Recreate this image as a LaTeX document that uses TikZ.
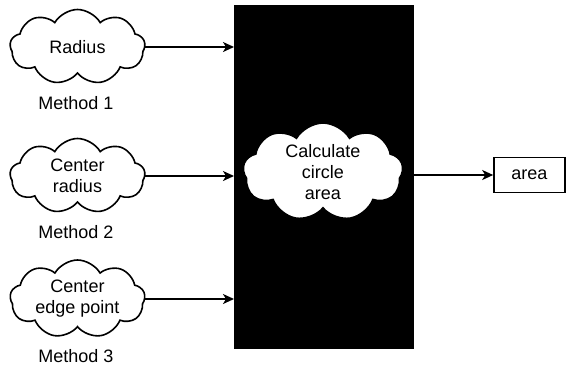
\documentclass[tikz,border=0pt]{standalone}
\usepackage{fontspec}
\setmainfont{Liberation Sans}
\usetikzlibrary{shapes.symbols,arrows.meta}
\tikzset{
  cloudnode/.style={cloud, cloud puffs=9, cloud puff arc=120, draw=black, fill=white, line width=1.6pt, inner sep=0pt, outer sep=0pt},
  txt/.style={align=center, font=\fontsize{18}{21}\selectfont, inner sep=0pt},
  lbl/.style={font=\fontsize{18}{21}\selectfont},
  arr/.style={line width=1.6pt, -{Stealth[length=11pt,width=10pt,inset=3pt]}},
}
\begin{document}
\begin{tikzpicture}[x=1pt,y=-1pt]
\useasboundingbox (0,0) rectangle (566,368);
\node[fill=black, minimum width=180pt, minimum height=344pt, inner sep=0pt, anchor=north west] (blk) at (234,5) {};
\node[cloudnode, minimum width=135pt, minimum height=75pt] (c1) at (77.5,47) {};
\node[cloudnode, minimum width=135pt, minimum height=75pt] (c2) at (77.5,176) {};
\node[cloudnode, minimum width=135pt, minimum height=78pt] (c3) at (77.5,299) {};
\node[txt] (t1txt) at (c1) {Radius};
\node[txt] (t2txt) at (c2) {Center\\radius};
\node[txt] (t3txt) at (c3) {Center\\edge point};
\node[lbl] (m1) at (76,103) {Method 1};
\node[lbl] (m2) at (76,232) {Method 2};
\node[lbl] (m3) at (76,356) {Method 3};
\node[cloudnode, minimum width=160pt, minimum height=98pt] (cc) at (323,172) {};
\node[txt] (cctxt) at (cc) {Calculate\\circle\\area};
\node[draw=black, line width=1.6pt, minimum width=71pt, minimum height=35pt, inner sep=0pt, font=\fontsize{18}{21}\selectfont] (area) at (529.5,175) {area};
\coordinate (t1) at (blk.west |- c1.east);
\coordinate (t2) at (blk.west |- c2.east);
\coordinate (t3) at (blk.west |- c3.east);
\draw[arr] (c1.east) -- (t1);
\draw[arr] (c2.east) -- (t2);
\draw[arr] (c3.east) -- (t3);
\draw[arr] (cc.east |- area.west) -- (area.west);
\end{tikzpicture}
\end{document}
